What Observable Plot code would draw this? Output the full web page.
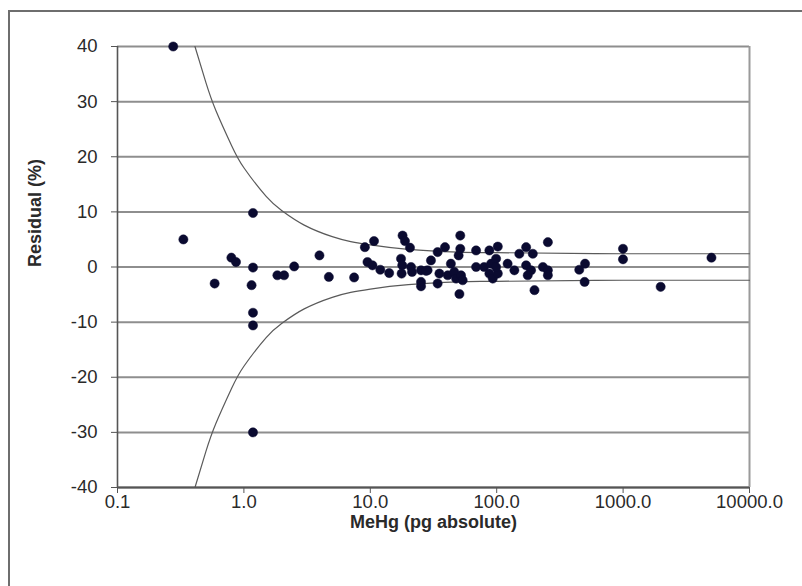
<!DOCTYPE html>
<html><head><meta charset="utf-8">
<script src="https://cdn.jsdelivr.net/npm/d3@7"></script>
<script src="https://cdn.jsdelivr.net/npm/@observablehq/plot@0.6"></script>
<style>
html,body{margin:0;padding:0;background:#fff;overflow:hidden;}
#wrap{position:relative;width:802px;height:586px;overflow:hidden;}
#border{position:absolute;left:8px;top:10px;width:900px;height:700px;border:2px solid #6e6e6e;}
#chart{position:absolute;left:0;top:0;}
</style></head><body><div id="wrap"><div id="border"></div><div id="chart"></div></div>
<script>
// Measured points: MeHg (pg absolute) vs residual (%)
const mehg = [0.276,0.332,0.587,0.796,0.866,1.18,1.18,1.15,1.18,1.18,1.18,1.84,2.08,2.5,3.96,4.7,
  7.45,9.06,10.7,9.5,10.4,12.0,14.1,18.0,18.8,20.6,17.5,17.9,17.7,21.0,21.4,25.2,25.2,25.2,28.4,
  51.5,39,34.1,30.2,27.6,51.5,50,43.4,35.2,34.1,41,46.2,47.7,52.2,53.8,50.7,
  68.7,68.7,87.5,102,79.5,90.3,98.9,87.5,93.1,102,98.9,122,
  254,171,151,193,138,171,187,176,232,254,254,199,450,500,496,998,998,1982,5000];
const residual = [40,5.0,-3.0,1.7,0.9,9.8,-0.1,-3.3,-8.3,-10.6,-30,-1.5,-1.5,0.1,2.1,-1.8,
  -1.9,3.6,4.7,0.9,0.3,-0.5,-1.1,5.7,4.7,3.5,1.5,0.3,-1.2,0.0,-0.9,-0.6,-2.7,-3.5,-0.6,
  5.7,3.6,2.7,1.2,-0.7,3.3,2.1,0.6,-1.2,-3.0,-1.5,-0.9,-2.1,-1.5,-2.4,-4.9,
  3.0,0.0,3.0,3.7,0.0,0.6,1.5,-1.2,-2.1,-1.2,0.0,0.6,
  4.5,3.6,2.4,2.4,-0.6,0.3,-0.6,-1.5,0.0,-0.6,-1.5,-4.2,-0.5,0.6,-2.7,3.3,1.4,-3.6,1.7];

// Envelope curves
const envX = [0.41,0.5,0.6,0.8,1,1.5,2,3,5,7,10,20,50,100,1000,10000];
const envUpper = [40,33.5,28.4,22,18,12.8,10.2,7.6,5.5,4.6,4.0,3.2,2.7,2.6,2.4,2.4];
const envLower = [-40,-33.5,-28.4,-22,-18,-12.8,-10.2,-7.6,-5.5,-4.6,-4.0,-3.2,-2.7,-2.6,-2.4,-2.4];

const xTicks = [0.1,1,10,100,1000,10000];
const xTickLabels = ["0.1","1.0","10.0","100.0","1000.0","10000.0"];
const yTicks = [-40,-30,-20,-10,0,10,20,30,40];
const yTickLabels = ["-40","-30","-20","-10","0","10","20","30","40"];
const xTitle = "MeHg (pg absolute)";
const yTitle = "Residual (%)";

const points = mehg.map((x, i) => ({x, y: residual[i]}));
const upper = envX.map((x, i) => ({x, y: envUpper[i]}));
const lower = envX.map((x, i) => ({x, y: envLower[i]}));

const chart = Plot.plot({
  width: 802, height: 586,
  marginLeft: 117, marginRight: 53, marginTop: 46, marginBottom: 99,
  style: {background: "transparent", fontFamily: "'Liberation Sans', Arial, sans-serif", color: "#2a2a2a"},
  x: {type: "log", domain: [0.1, 10000]},
  y: {domain: [-40, 40]},
  marks: [
    Plot.ruleY(yTicks, {stroke: "#8e8e8e", strokeWidth: 2}),
    Plot.ruleX([10000], {stroke: "#9a9a9a", strokeWidth: 2}),
    Plot.line(upper, {x: "x", y: "y", curve: "natural", stroke: "#5a5a5a", strokeWidth: 1.2}),
    Plot.line(lower, {x: "x", y: "y", curve: "natural", stroke: "#5a5a5a", strokeWidth: 1.2}),
    Plot.ruleX([0.1], {stroke: "#555", strokeWidth: 1.6}),
    Plot.ruleY([-40], {stroke: "#555", strokeWidth: 2}),
    Plot.axisY(yTicks, {tickSize: 6, tickPadding: 14, fontSize: 18.5, stroke: "#555",
      tickFormat: (d) => yTickLabels[yTicks.indexOf(d)], label: null}),
    Plot.axisX(xTicks, {tickSize: 6, tickPadding: 1, fontSize: 18.5, stroke: "#555",
      tickFormat: (d) => xTickLabels[xTicks.indexOf(d)], label: null}),
    Plot.text([xTitle], {frameAnchor: "bottom", dy: 40, fontSize: 18, fontWeight: "bold", fill: "#2a2a2a"}),
    Plot.text([yTitle], {frameAnchor: "left", dx: -82, rotate: -90, fontSize: 18, fontWeight: "bold", fill: "#2a2a2a"}),
    Plot.dot(points, {x: "x", y: "y", r: 4.6, fill: "#0a0a30", stroke: "#0a0a30", strokeWidth: 0.5})
  ]
});
document.getElementById("chart").appendChild(chart);
</script></body></html>
